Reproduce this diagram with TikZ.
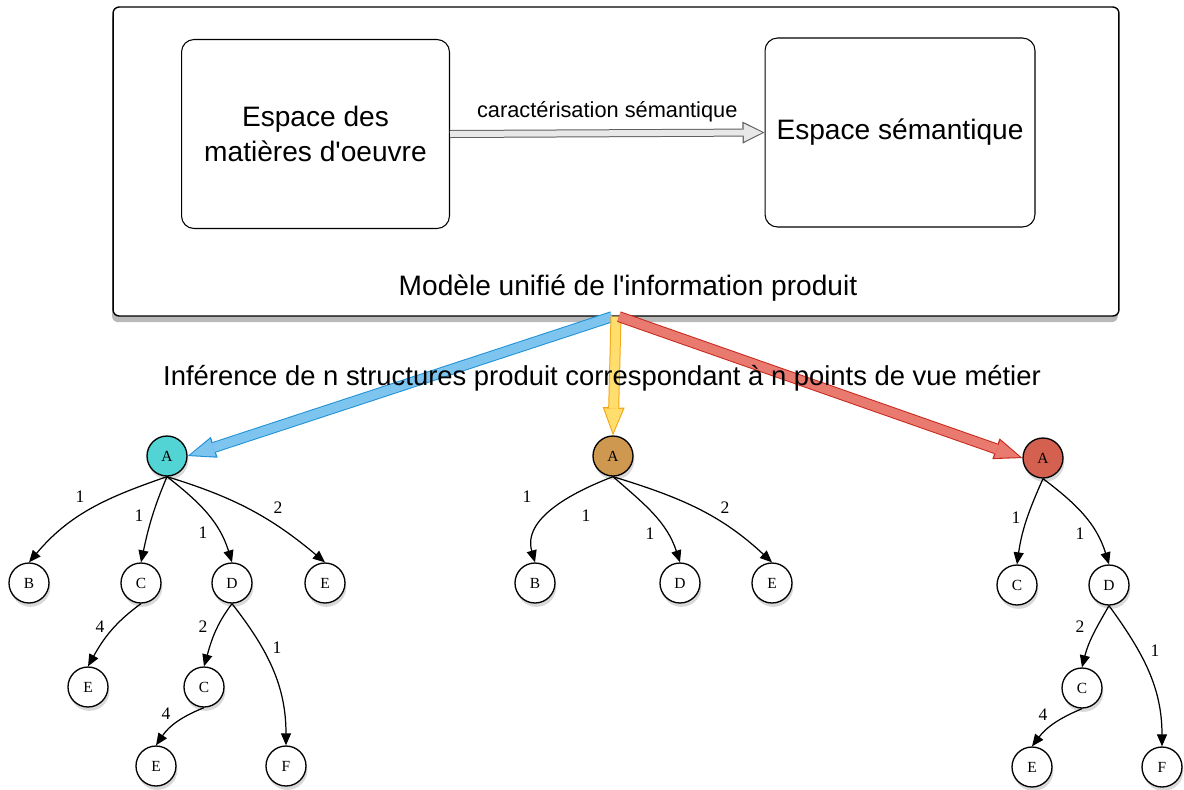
\documentclass[tikz,border=0pt]{standalone}
\usepackage{fontspec}
\setmainfont{Liberation Sans}
\newfontfamily\treefont{Liberation Serif}
\usetikzlibrary{arrows.meta,shadows,positioning}

\definecolor{cyannode}{RGB}{82,212,212}
\definecolor{tannode}{RGB}{206,152,80}
\definecolor{rednode}{RGB}{212,96,80}
\definecolor{blueborder}{RGB}{30,145,215}
\definecolor{bluefill}{RGB}{125,196,238}
\definecolor{yellowborder}{RGB}{245,165,20}
\definecolor{yellowfill}{RGB}{255,222,110}
\definecolor{redborder}{RGB}{200,40,28}
\definecolor{redfill}{RGB}{232,122,112}

\tikzset{
	space/.style = {draw, rounded corners = 0.25cm, minimum width = 5.36cm, minimum height = 3.78cm, align = center, font = \fontsize{16}{20}\selectfont, line width = 0.6pt},
	vertex/.style = {circle, draw, fill = white, minimum size = 0.8cm, inner sep = 0pt, line width = 0.75pt, font = \treefont\fontsize{8.8}{10}\selectfont, drop shadow = {opacity = 0.3, shadow xshift = 0.8pt, shadow yshift = -2.2pt}},
	link/.style = {line width = 0.7pt, -{Triangle[length = 0.24cm, width = 0.2cm]}},
	wt/.style = {font = \treefont\fontsize{10}{12}\selectfont},
	fatout/.style = {line width = 0.22cm, -{Triangle[length = 0.56cm, width = 0.44cm, line width = 0pt]}},
	fatin/.style = {line width = 0.18cm, shorten >= 0.054cm, -{Triangle[length = 0.48cm, width = 0.37cm, line width = 0pt]}}
}

\begin{document}
\begin{tikzpicture} [x = 0.02cm, y = 0.02cm]
	\useasboundingbox (0,0) rectangle (1184,-789);

	% modele unifie
	\node [draw, fill = white, rounded corners = 0.12cm, line width = 0.8pt, minimum width = 20.12cm, minimum height = 6.18cm, drop shadow = {opacity = 0.55, shadow xshift = -0.6pt, shadow yshift = -3.5pt}] (model) at (616,-161.5) {};
	\node [space] (matiere) at (315.5,-134) {Espace des\\matières d\textquotesingle oeuvre};
	\node [space, minimum width = 5.4cm] (semantique) at (900,-132.5) {Espace sémantique};
	\node [font = \fontsize{16}{20}\selectfont] (modeltxt) at (628,-288) {Modèle unifié de l\textquotesingle information produit};

	\draw [line width = 0.16cm, draw = gray!75!black, -{Triangle[length = 0.44cm, width = 0.44cm, line width = 0pt]}] (matiere.east) -- (semantique.west) node [midway, above = 1pt, font = \fontsize{12.4}{14}\selectfont] (caract) {caractérisation sémantique};
	\draw [line width = 0.12cm, draw = gray!18, shorten >= 0.045cm, -{Triangle[length = 0.37cm, width = 0.36cm, line width = 0pt]}] (matiere.east) -- (semantique.west);

	% arbres
	\node [vertex, fill = cyannode] (lA) at (167,-456) {A};
	\node [vertex] (lB) at (29,-583) {B};
	\node [vertex] (lC) at (141,-583) {C};
	\node [vertex] (lD) at (232,-583) {D};
	\node [vertex] (lE) at (325,-583) {E};
	\node [vertex] (lCE) at (88,-687) {E};
	\node [vertex] (lDC) at (204,-687) {C};
	\node [vertex] (lDCE) at (156,-766) {E};
	\node [vertex] (lDF) at (286,-766) {F};

	\node [vertex, fill = tannode] (mA) at (613,-456) {A};
	\node [vertex] (mB) at (535,-583) {B};
	\node [vertex] (mD) at (680,-583) {D};
	\node [vertex] (mE) at (772,-583) {E};

	\node [vertex, fill = rednode] (rA) at (1043,-458) {A};
	\node [vertex] (rC) at (1017,-585) {C};
	\node [vertex] (rD) at (1109,-585) {D};
	\node [vertex] (rDC) at (1082,-688) {C};
	\node [vertex] (rDCE) at (1032,-767) {E};
	\node [vertex] (rDF) at (1162,-767) {F};

	\draw [link] (lA.south) to [out = -161, in = 50] (lB.north);
	\draw [link] (lA.south) to [out = -113, in = 78] (lC.north);
	\draw [link] (lA.south) to [out = -38, in = 107] (lD.north);
	\draw [link] (lA.south) to [out = -17, in = 140] (lE.north);
	\draw [link] (lC.south) to [out = -144, in = 61] (lCE.north);
	\draw [link] (lD.south) to [out = -127, in = 74] (lDC.north);
	\draw [link] (lD.south) to [out = -52, in = 90] (lDF.north);
	\draw [link] (lDC.south) to [out = -158, in = 56] (lDCE.north);

	\draw [link] (mA.south) to [out = -159, in = 106] (mB.north);
	\draw [link] (mA.south) to [out = -41, in = 108] (mD.north);
	\draw [link] (mA.south) to [out = -17, in = 137] (mE.north);

	\draw [link] (rA.south) to [out = -114, in = 82] (rC.north);
	\draw [link] (rA.south) to [out = -37, in = 107] (rD.north);
	\draw [link] (rD.south) to [out = -120, in = 76] (rDC.north);
	\draw [link] (rD.south) to [out = -54, in = 90] (rDF.north);
	\draw [link] (rDC.south) to [out = -157, in = 53] (rDCE.north);

	\node [wt] (lw1) at (80,-497) {1};
	\node [wt] (lw2) at (139,-516) {1};
	\node [wt] (lw3) at (203,-533) {1};
	\node [wt] (lw4) at (278,-508) {2};
	\node [wt] (lw5) at (100,-627) {4};
	\node [wt] (lw6) at (203,-627) {2};
	\node [wt] (lw7) at (277,-648) {1};
	\node [wt] (lw8) at (166,-714) {4};

	\node [wt] (mw1) at (527,-497) {1};
	\node [wt] (mw2) at (586,-516) {1};
	\node [wt] (mw3) at (650,-534) {1};
	\node [wt] (mw4) at (725,-508) {2};

	\node [wt] (rw1) at (1016,-518) {1};
	\node [wt] (rw2) at (1080,-534) {1};
	\node [wt] (rw3) at (1080,-627) {2};
	\node [wt] (rw4) at (1155,-651) {1};
	\node [wt] (rw5) at (1043,-715) {4};

	% inference des structures
	\coordinate (src) at (model.south);
	\draw [fatout, draw = blueborder] ([xshift = -0.08cm]src) -- (lA.east);
	\draw [fatin, draw = bluefill] ([xshift = -0.08cm]src) -- (lA.east);
	\draw [fatout, draw = yellowborder] (src) -- (mA.north);
	\draw [fatin, draw = yellowfill] (src) -- (mA.north);
	\draw [fatout, draw = redborder] ([xshift = 0.06cm]src) -- (rA.west);
	\draw [fatin, draw = redfill] ([xshift = 0.06cm]src) -- (rA.west);

	\node [font = \fontsize{15.6}{20}\selectfont] (inference) at (602,-378) {Inférence de n structures produit correspondant à n points de vue métier};
\end{tikzpicture}
\end{document}
